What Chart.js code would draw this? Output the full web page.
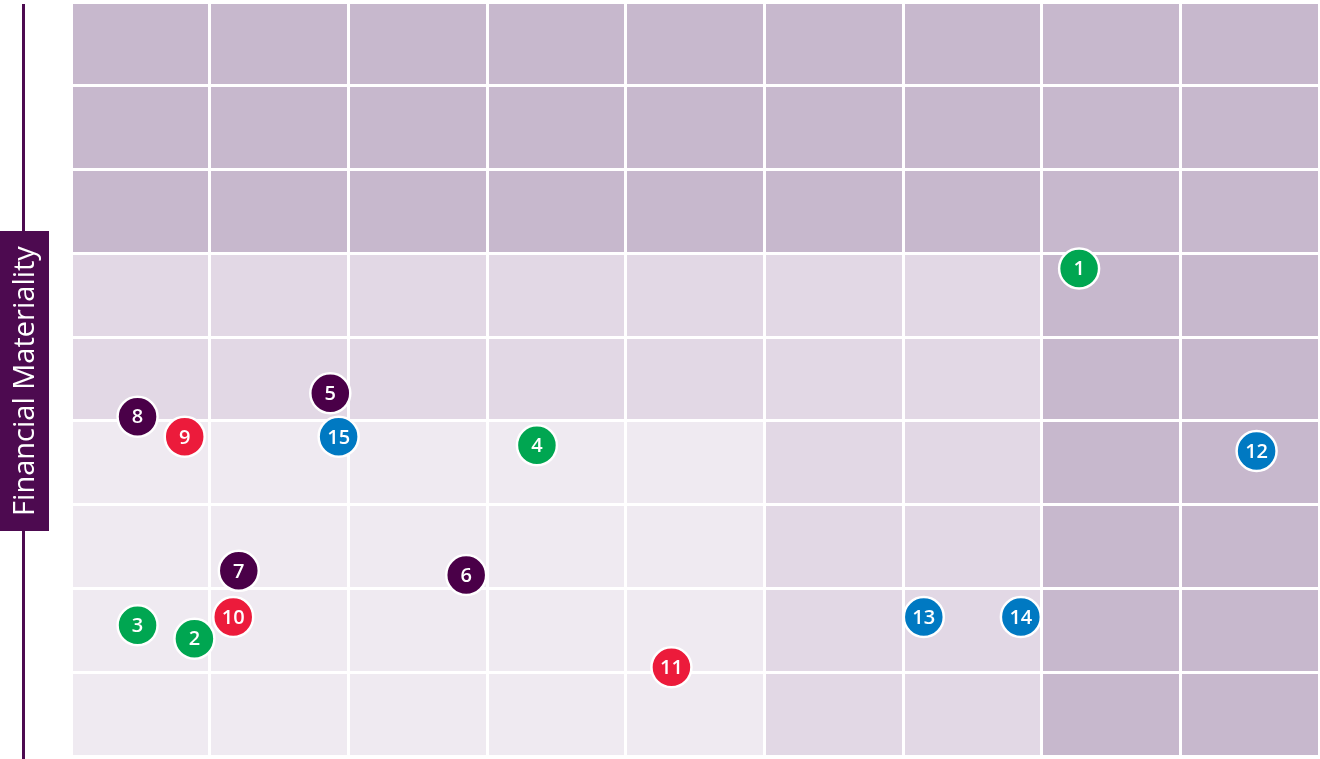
<!DOCTYPE html>
<html>
<head>
<meta charset="utf-8">
<script src="https://cdn.jsdelivr.net/npm/chart.js@4"></script>
<style>
html,body{margin:0;padding:0;background:#fff;}
#wrap{width:1320px;height:759px;position:relative;}
</style>
</head>
<body>
<div id="wrap"><canvas id="c" width="1320" height="759"></canvas></div>
<script>
// ---- data ----
const yAxisTitle = "Financial Materiality";
const pointIds = [1,2,3,4,5,6,7,8,9,10,11,12,13,14,15];
const xValues = [7.27,0.89,0.48,3.36,1.87,2.85,1.21,0.48,0.82,1.17,4.33,8.55,6.15,6.85,1.93];
const yValues = [5.82,1.40,1.56,3.71,4.33,2.16,2.21,4.05,3.81,1.66,1.06,3.64,1.66,1.66,3.81];
const pointGroups = ["green","green","green","green","purple","purple","purple","purple","red","red","red","blue","blue","blue","blue"];
// cell shade levels, rows listed top to bottom, columns left to right (2 = dark, 1 = medium, 0 = light)
const cellLevels = [
  [2,2,2,2,2,2,2,2,2],
  [2,2,2,2,2,2,2,2,2],
  [2,2,2,2,2,2,2,2,2],
  [1,1,1,1,1,1,1,2,2],
  [1,1,1,1,1,1,1,2,2],
  [0,0,0,0,0,1,1,2,2],
  [0,0,0,0,0,1,1,2,2],
  [0,0,0,0,0,1,1,2,2],
  [0,0,0,0,0,1,1,2,2]
];

// ---- styles ----
const groupColors = {green:"#00a651", purple:"#4a0048", red:"#ec1b3b", blue:"#0079c2"};
const levelColors = ["#efeaf1","#e2d8e5","#c7b8cd"];
const accent = "#4d0a50";

const cellPlugin = {
  id: "cells",
  beforeDraw(chart) {
    const {ctx, scales:{x, y}} = chart;
    const nRows = cellLevels.length;
    ctx.save();
    cellLevels.forEach((row, ri) => {
      const yTop = nRows - ri;
      row.forEach((lvl, ci) => {
        const x0 = x.getPixelForValue(ci), x1 = x.getPixelForValue(ci + 1);
        const y0 = y.getPixelForValue(yTop), y1 = y.getPixelForValue(yTop - 1);
        ctx.fillStyle = levelColors[lvl];
        ctx.fillRect(x0, y0, x1 - x0, y1 - y0);
      });
    });
    ctx.restore();
  }
};

const axisTitlePlugin = {
  id: "axisTitle",
  afterDraw(chart) {
    const {ctx, chartArea} = chart;
    ctx.save();
    ctx.strokeStyle = accent;
    ctx.lineWidth = 3;
    ctx.beginPath();
    ctx.moveTo(23.5, chartArea.top + 2);
    ctx.lineTo(23.5, chart.height);
    ctx.stroke();
    const cy = 381;
    ctx.fillStyle = accent;
    ctx.fillRect(0, 231, 49, 300);
    ctx.translate(25, cy);
    ctx.rotate(-Math.PI / 2);
    ctx.fillStyle = "#ffffff";
    ctx.font = "400 29px 'Open Sans', sans-serif";
    ctx.textAlign = "center";
    ctx.textBaseline = "middle";
    ctx.fillText(yAxisTitle, 0, 1);
    ctx.restore();
  }
};

const labelPlugin = {
  id: "pointLabels",
  afterDatasetsDraw(chart) {
    const {ctx} = chart;
    const meta = chart.getDatasetMeta(0);
    ctx.save();
    ctx.fillStyle = "#ffffff";
    ctx.font = "600 20px 'Open Sans', sans-serif";
    ctx.textAlign = "center";
    ctx.textBaseline = "middle";
    meta.data.forEach((el, i) => {
      ctx.fillText(String(pointIds[i]), el.x, el.y + 1);
    });
    ctx.restore();
  }
};

new Chart(document.getElementById("c"), {
  type: "scatter",
  data: {
    datasets: [{
      data: xValues.map((v, i) => ({x: v, y: yValues[i]})),
      backgroundColor: pointGroups.map(g => groupColors[g]),
      borderColor: "#ffffff",
      borderWidth: 2.5,
      pointRadius: 20,
      pointHoverRadius: 20
    }]
  },
  options: {
    responsive: false,
    animation: false,
    layout: {autoPadding: false, padding: {left: 71, top: 2, right: 1, bottom: 3}},
    plugins: {legend: {display: false}, tooltip: {enabled: false}},
    scales: {
      x: {
        type: "linear", min: 0, max: 9,
        ticks: {display: false, stepSize: 1},
        grid: {color: "#ffffff", lineWidth: 3, drawTicks: false},
        border: {display: false},
        afterFit(s) { s.height = 0; }
      },
      y: {
        type: "linear", min: 0, max: 9,
        ticks: {display: false, stepSize: 1},
        grid: {color: "#ffffff", lineWidth: 3, drawTicks: false},
        border: {display: false},
        afterFit(s) { s.width = 0; }
      }
    }
  },
  plugins: [cellPlugin, axisTitlePlugin, labelPlugin]
});
</script>
</body>
</html>
